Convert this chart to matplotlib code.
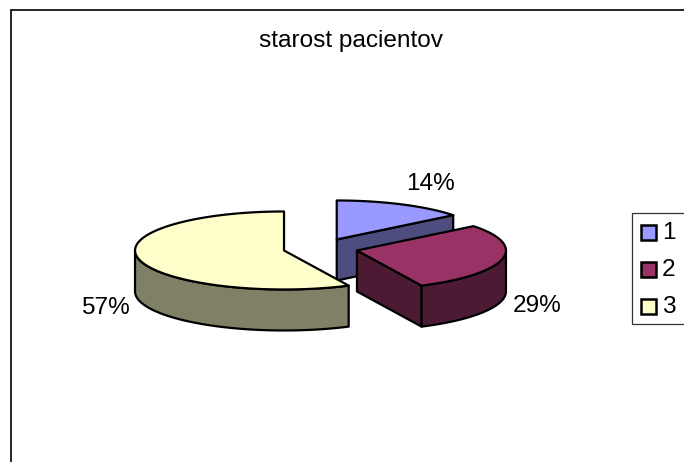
import matplotlib
matplotlib.use("Agg")
import matplotlib.pyplot as plt
import numpy as np
from matplotlib.patches import Polygon, Rectangle

plt.rcParams["font.family"] = ["Liberation Sans", "DejaVu Sans"]

TITLE = "starost pacientov"
CATEGORIES = ["1", "2", "3"]
COUNTS = [1, 2, 4]  # gives the printed 14 / 29 / 57 %
TOPS = ["#9999FF", "#993366", "#FFFFCC"]
SIDES = ["#4D4D80", "#4D1A33", "#808066"]

# pie geometry in image pixels
CX, CY = 320.5, 248.3
RX, RY = 149, 39
DEPTH = 41
EXPLODE = 37.4
LW = 1.6
FS = 17.6

# label anchor per slice (centre of text, pixels)
LABEL_POS = [(430, 183.5), (537, 305.5), (105, 307.5)]

fig = plt.figure(figsize=(6.84, 4.62), dpi=100)
ax = fig.add_axes([0, 0, 1, 1])
ax.set_xlim(0, 684)
ax.set_ylim(462, 0)
ax.axis("off")


def rim(cx, cy, a0, a1, n=80):
    t = np.radians(np.linspace(a0, a1, n))
    return np.column_stack([cx + RX * np.cos(t), cy - RY * np.sin(t)])


def draw(points, color):
    ax.add_patch(Polygon(points, fc=color, ec="black", lw=LW, joinstyle="round"))


# outer chart frame, runs off the right and bottom of the picture
ax.add_patch(Rectangle((10.5, 10), 800, 600, fc="white", ec="black", lw=1.2))

# slices go clockwise from 12 o'clock
fracs = np.array(COUNTS) / sum(COUNTS)
ends = 90 - 360 * np.cumsum(fracs)
starts = np.r_[90, ends[:-1]]
down = np.array([0, DEPTH])

for i in [0, 2, 1]:  # blue is behind the other two
    a0, a1 = starts[i], ends[i]
    mid = np.radians((a0 + a1) / 2)
    cx = CX + EXPLODE * np.cos(mid)
    cy = CY - EXPLODE * np.sin(mid) * RY / RX
    arc = rim(cx, cy, a0, a1)
    apex = np.array([[cx, cy]])

    # cut face towards the viewer
    if i < 2:
        draw(np.vstack([apex, arc[-1:], arc[-1:] + down, apex + down]), SIDES[i])

    # outer wall, only the part below the ellipse's widest line
    if i == 1:
        low = rim(cx, cy, 0, a1)
        draw(np.vstack([low, low[::-1] + down]), SIDES[i])
    if i == 2:
        low = rim(cx, cy, 180, a0 + 360)
        draw(np.vstack([low, low[::-1] + down]), SIDES[i])

    draw(np.vstack([apex, arc]), TOPS[i])

ax.text(351, 41.5, TITLE, ha="center", va="center", fontsize=FS)
for f, (x, y) in zip(fracs, LABEL_POS):
    ax.text(x, y, f"{f * 100:.0f}%", ha="center", va="center", fontsize=FS)

# legend box is cut by the right edge of the picture
ax.add_patch(Rectangle((632, 213), 80, 111, fc="white", ec="#333333", lw=0.9))
for name, color, y in zip(CATEGORIES, TOPS, [232, 269, 306]):
    ax.add_patch(Rectangle((640.5, y - 7.5), 15, 15, fc=color, ec="black", lw=1.8))
    ax.text(662, y + 1, name, ha="left", va="center", fontsize=FS)

fig.savefig("out.png", dpi=100)
